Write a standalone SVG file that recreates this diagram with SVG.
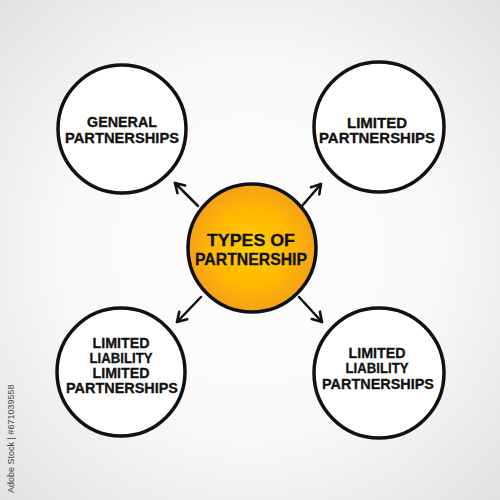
<svg xmlns="http://www.w3.org/2000/svg" width="500" height="500" viewBox="0 0 500 500">
<defs>
<radialGradient id="bg" cx="50%" cy="50%" r="70%">
<stop offset="0" stop-color="#ffffff"/>
<stop offset="0.55" stop-color="#f8f8f8"/>
<stop offset="1" stop-color="#e2e2e2"/>
</radialGradient>
<radialGradient id="org" cx="50%" cy="50%" r="50%">
<stop offset="0" stop-color="#ffd000"/>
<stop offset="0.6" stop-color="#ffb800"/>
<stop offset="1" stop-color="#f6a01a"/>
</radialGradient>
<marker id="ah" markerWidth="14" markerHeight="14" refX="11" refY="7" orient="auto" markerUnits="userSpaceOnUse">
<polyline points="2,1.5 11,7 2,12.5" fill="none" stroke="#111" stroke-width="2.6" stroke-linecap="round" stroke-linejoin="round"/>
</marker>
</defs>
<style>
.c{fill:#fff;stroke:#111;stroke-width:3.5}
.t{font-family:"Liberation Sans",Arial,sans-serif;font-weight:bold;fill:#111;stroke:#111;stroke-width:0.3;text-anchor:middle}
.s{font-size:14.5px}
.b{font-size:17px}
.ar{stroke:#111;stroke-width:2.5;fill:none;stroke-linecap:round;marker-end:url(#ah)}
</style>
<rect width="500" height="500" fill="url(#bg)"/>
<g id="connectors">
<line class="ar" x1="198" y1="206" x2="175" y2="183"/>
<line class="ar" x1="302" y1="206" x2="321" y2="184"/>
<line class="ar" x1="201" y1="297" x2="177" y2="322"/>
<line class="ar" x1="299" y1="297" x2="322" y2="322"/>
</g>
<g id="general">
<circle class="c" cx="122" cy="129" r="64"/>
<text class="t s" x="122" y="127" textLength="70" lengthAdjust="spacingAndGlyphs">GENERAL</text>
<text class="t s" x="122" y="143" textLength="114" lengthAdjust="spacingAndGlyphs">PARTNERSHIPS</text>
</g>
<g id="limited">
<circle class="c" cx="379" cy="127" r="65"/>
<text class="t s" x="377" y="128" textLength="60" lengthAdjust="spacingAndGlyphs">LIMITED</text>
<text class="t s" x="377" y="143" textLength="116" lengthAdjust="spacingAndGlyphs">PARTNERSHIPS</text>
</g>
<g id="types">
<circle cx="252" cy="248" r="64" fill="url(#org)" stroke="#111" stroke-width="3.5"/>
<text class="t b" x="251" y="246" textLength="88" lengthAdjust="spacingAndGlyphs">TYPES OF</text>
<text class="t b" x="251" y="265" textLength="112" lengthAdjust="spacingAndGlyphs">PARTNERSHIP</text>
</g>
<g id="llp-limited">
<circle class="c" cx="121" cy="372" r="64"/>
<text class="t s" x="121" y="348" textLength="57" lengthAdjust="spacingAndGlyphs">LIMITED</text>
<text class="t s" x="121" y="363" textLength="63" lengthAdjust="spacingAndGlyphs">LIABILITY</text>
<text class="t s" x="121" y="378" textLength="57" lengthAdjust="spacingAndGlyphs">LIMITED</text>
<text class="t s" x="122" y="393" textLength="112" lengthAdjust="spacingAndGlyphs">PARTNERSHIPS</text>
</g>
<g id="llp">
<circle class="c" cx="379" cy="373" r="65"/>
<text class="t s" x="377" y="358" textLength="57" lengthAdjust="spacingAndGlyphs">LIMITED</text>
<text class="t s" x="377" y="373" textLength="63" lengthAdjust="spacingAndGlyphs">LIABILITY</text>
<text class="t s" x="378" y="389" textLength="112" lengthAdjust="spacingAndGlyphs">PARTNERSHIPS</text>
</g>
<text transform="translate(14,493) rotate(-90)" font-family="'Liberation Sans',Arial,sans-serif" font-size="9" fill="#444">Adobe Stock | #671039558</text>
</svg>
